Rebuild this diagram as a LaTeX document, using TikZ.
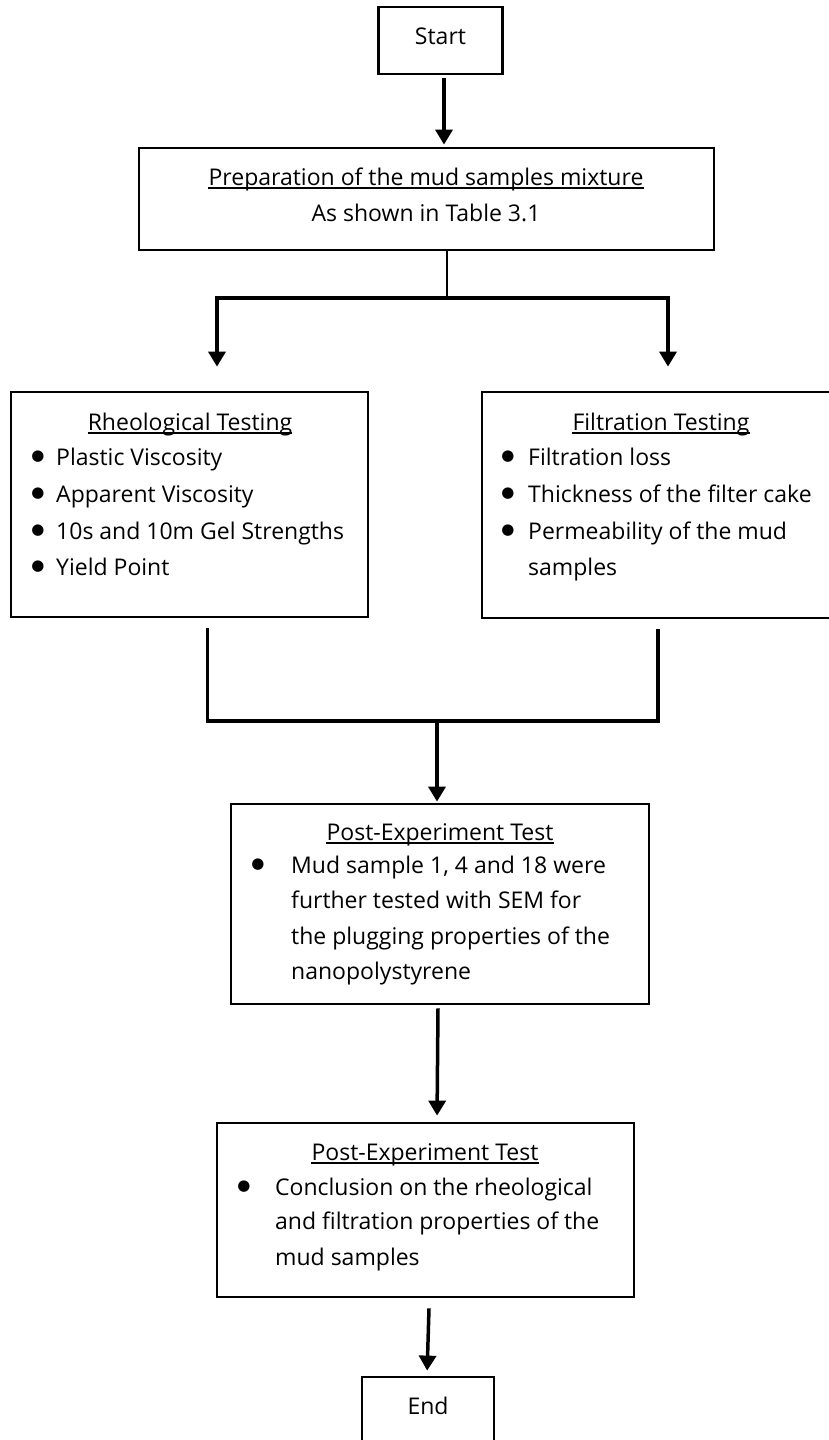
\documentclass[tikz,border=0pt]{standalone}
\usepackage{fontspec}
\setmainfont{Open Sans}
\newfontfamily\dejavu{DejaVu Sans}
\usetikzlibrary{arrows.meta}
\begin{document}
\begin{tikzpicture}[x=1pt,y=-1pt,
  box/.style={draw=black, line width=2.8pt, inner sep=0pt},
  txt/.style={inner sep=0pt, font=\fontsize{23}{27}\selectfont},
  bul/.style={inner sep=0pt, anchor=center, font=\dejavu\fontsize{15}{15}\selectfont},
  conn/.style={line width=3.2pt},
  thinconn/.style={line width=2.2pt},
  arr/.style={line width=3.5pt, -{Triangle[width=17pt,length=15pt]}},
  ul/.style={line width=1.3pt}
]
\useasboundingbox (0,0) rectangle (828,1440);
\fill[white] (0,0) rectangle (828,1440);

% boxes
\node[box, minimum width=124pt, minimum height=67pt] (start) at (440.5,40.5) {};
\node[box, minimum width=575pt, minimum height=102pt] (prep) at (426.5,199) {};
\node[box, minimum width=357pt, minimum height=225pt] (rheo) at (189.5,504.5) {};
\node[box, minimum width=354pt, minimum height=226pt] (filt) at (659,505) {};
\node[box, minimum width=418pt, minimum height=200pt] (post1) at (440,904) {};
\node[box, minimum width=417pt, minimum height=174pt] (post2) at (425.5,1210) {};
\node[box, minimum width=132pt, minimum height=84pt] (end) at (428,1419) {};

% texts
\node[txt, anchor=base] (tstart) at (440.5,44) {Start};
\node[txt, anchor=base] (tprep1) at (426,185) {Preparation of the mud samples mixture};
\node[txt, anchor=base] (tprep2) at (426,221) {As shown in Table 3.1};

\node[txt, anchor=base] (trheo) at (190,430) {Rheological Testing};
\node[bul] (rb1) at (38,457) {●};
\node[txt, anchor=base west] (rt1) at (56,465) {Plastic Viscosity};
\node[bul] (rb2) at (38,494) {●};
\node[txt, anchor=base west] (rt2) at (56,502) {Apparent Viscosity};
\node[bul] (rb3) at (38,531) {●};
\node[txt, anchor=base west] (rt3) at (56,539) {10s and 10m Gel Strengths};
\node[bul] (rb4) at (38,567) {●};
\node[txt, anchor=base west] (rt4) at (56,575) {Yield Point};

\node[txt, anchor=base] (tfilt) at (661,430) {Filtration Testing};
\node[bul] (fb1) at (508,457) {●};
\node[txt, anchor=base west] (ft1) at (528,465) {Filtration loss};
\node[bul] (fb2) at (508,494) {●};
\node[txt, anchor=base west] (ft2) at (528,502) {Thickness of the filter cake};
\node[bul] (fb3) at (508,531) {●};
\node[txt, anchor=base west] (ft3) at (528,539) {Permeability of the mud};
\node[txt, anchor=base west] (ft4) at (528,575) {samples};

\node[txt, anchor=base] (tpost1) at (440,840) {Post-Experiment Test};
\node[bul] (pb1) at (258,865) {●};
\node[txt, anchor=base west] (pt1) at (291,873) {Mud sample 1, 4 and 18 were};
\node[txt, anchor=base west] (pt2) at (291,908.5) {further tested with SEM for};
\node[txt, anchor=base west] (pt3) at (291,944) {the plugging properties of the};
\node[txt, anchor=base west] (pt4) at (291,979) {nanopolystyrene};

\node[txt, anchor=base] (tpost2) at (425,1160) {Post-Experiment Test};
\node[bul] (qb1) at (244,1187) {●};
\node[txt, anchor=base west] (qt1) at (275,1195) {Conclusion on the rheological};
\node[txt, anchor=base west] (qt2) at (275,1229) {and filtration properties of the};
\node[txt, anchor=base west] (qt3) at (275,1265) {mud samples};

\node[txt, anchor=base] (tend) at (428,1414) {End};

% underlines
\foreach \n in {tprep1,trheo,tfilt,tpost1,tpost2}
  \draw[ul] ([yshift=-3pt]\n.base west) -- ([yshift=-3pt]\n.base east);

% connectors
\draw[arr] ([xshift=3.5pt,yshift=-3pt]start.south) -- ([xshift=3.5pt,yshift=2pt]start.south |- prep.north);

\coordinate (splitC) at (447,298);
\coordinate (splitL) at (217,298);
\coordinate (splitR) at (668,298);
\draw[thinconn] (prep.south -| splitC) -- (splitC);
\draw[conn, line cap=rect] (splitL) -- (splitR);
\draw[arr, shorten >=24pt] (splitL) -- (splitL |- rheo.north);
\draw[arr, shorten >=24pt] (splitR) -- (splitR |- filt.north);

\coordinate (mergeL) at (207.5,721);
\coordinate (mergeR) at (658,721);
\coordinate (mergeC) at (437,721);
\draw[conn, line join=miter] ([yshift=-10pt]rheo.south -| mergeL) -- (mergeL) -- (mergeR) -- ([yshift=-10pt]filt.south -| mergeR);
\draw[arr] (mergeC) -- ([yshift=1pt]mergeC |- post1.north);

\draw[arr, shorten >=6pt] ([xshift=-2pt,yshift=-3pt]post1.south) -- ([xshift=-3pt]post1.south |- post2.north);
\draw[arr, shorten >=5pt] ([xshift=3.5pt,yshift=-10pt]post2.south) -- ([xshift=1.5pt]post2.south |- end.north);
\end{tikzpicture}
\end{document}
